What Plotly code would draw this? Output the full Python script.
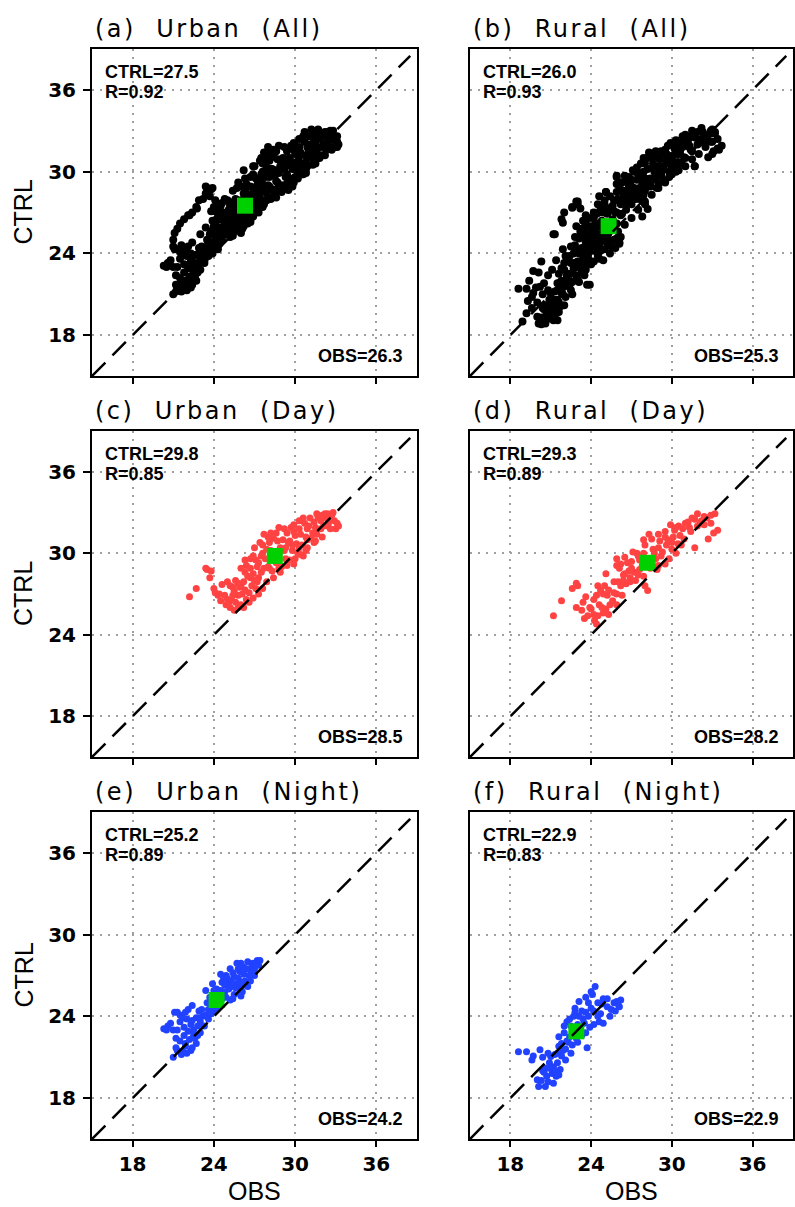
import plotly.graph_objects as go

W, H = 795, 1207

# ---------------- data ----------------
panel_titles = ["(a)  Urban  (All)", "(b)  Rural  (All)",
                "(c)  Urban  (Day)", "(d)  Rural  (Day)",
                "(e)  Urban  (Night)", "(f)  Rural  (Night)"]
obs_mean = [26.3, 25.3, 28.5, 28.2, 24.2, 22.9]
ctrl_mean = [27.5, 26.0, 29.8, 29.3, 25.2, 22.9]
corr_r = [0.92, 0.93, 0.85, 0.89, 0.89, 0.83]
tick_vals = [18, 24, 30, 36]
axis_range = [15, 39]

# (OBS, CTRL) pairs
urban_day = [
    (22.2, 26.8), (22.7, 27.4), (23.5, 28.8), (23.8, 28.7), (23.7, 28.2), (23.4, 28.9),
    (24.1, 27.1), (24.0, 27.4), (24.5, 26.5), (24.3, 26.9),
    (24.6, 27.7), (25.0, 27.9), (24.9, 26.2), (25.2, 26.0), (25.3, 26.6), (25.6, 26.4),
    (25.8, 26.9), (25.5, 27.2), (25.9, 27.5), (25.2, 27.6), (25.6, 28.0), (26.1, 27.0),
    (26.3, 27.3), (26.0, 26.2), (26.4, 26.6), (26.6, 27.1), (26.2, 27.9), (26.5, 28.3),
    (26.8, 27.6), (27.0, 28.0), (26.9, 28.5), (27.3, 28.2), (27.5, 28.6), (27.1, 27.4),
    (26.4, 29.1), (26.0, 28.9), (26.3, 29.5), (26.9, 29.8), (27.0, 30.4), (27.6, 30.6),
    (27.7, 31.4), (28.2, 31.5), (28.8, 31.9), (28.4, 31.1), (27.3, 29.3), (27.8, 29.6),
    (27.6, 30.0), (28.0, 29.0), (28.3, 28.7), (28.6, 29.3), (28.2, 30.2), (28.9, 30.4),
    (29.0, 29.0), (29.3, 29.6), (29.5, 30.8), (29.1, 31.0), (28.7, 30.9), (29.8, 30.2),
    (29.6, 29.5), (30.0, 31.3), (30.2, 30.0), (29.4, 31.5), (30.5, 30.6), (30.3, 31.8),
    (29.7, 31.9), (30.3, 32.4), (30.8, 31.2), (31.0, 32.0), (30.9, 30.4), (31.3, 31.5),
    (31.5, 30.9), (31.1, 32.6), (31.7, 32.65), (31.9, 31.8), (32.2, 32.9), (32.5, 32.3),
    (32.4, 32.0), (32.9, 32.4), (33.0, 31.8), (32.7, 32.8), (31.6, 31.4), (32.0, 31.2),
    (30.6, 29.8), (30.0, 29.6),
    (25.0, 26.6), (25.4, 26.9), (25.8, 27.8), (26.3, 28.6), (26.7, 28.9), (27.2, 29.0),
    (27.5, 29.8), (27.9, 30.3), (28.1, 30.8), (28.5, 30.1), (28.5, 29.7), (28.8, 28.9),
    (29.2, 30.2), (29.6, 30.9), (29.9, 31.6), (30.1, 30.7), (30.4, 31.4), (30.7, 32.2),
    (30.9, 31.8), (31.2, 31.1), (31.4, 32.3), (31.6, 32.9), (31.9, 32.4), (32.1, 32.0),
    (32.3, 32.6), (32.6, 31.8), (32.8, 33.0), (32.0, 32.8), (31.4, 30.8), (30.8, 30.2),
    (30.4, 29.9), (29.9, 29.2), (29.4, 29.1), (28.9, 28.6), (28.4, 28.2), (27.9, 27.9),
    (27.6, 27.4), (27.3, 27.0), (26.9, 26.7), (26.6, 26.4), (26.2, 26.0), (25.8, 26.0),
    (25.5, 25.8), (27.1, 29.5), (26.7, 29.6), (27.4, 30.8), (28.0, 31.2), (28.6, 31.5),
    (29.2, 31.8), (29.9, 32.1), (30.6, 32.6), (25.4, 27.5), (26.0, 27.6), (26.7, 28.2),
    (27.2, 27.9), (27.7, 28.9), (28.1, 28.9), (28.8, 29.9), (29.3, 30.4), (29.8, 30.6),
    (30.3, 30.4), (30.9, 31.0), (31.5, 31.9), (32.4, 32.9), (33.1, 32.2), (33.2, 32.0),
    (24.8, 26.9), (25.1, 26.4), (24.4, 27.0),
]
urban_night = [
    (21.0, 21.0), (21.3, 21.5), (21.7, 21.4), (22.3, 21.5), (22.4, 21.7), (21.9, 22.0),
    (21.5, 22.2), (22.2, 22.3), (21.8, 22.6), (22.5, 22.6), (20.3, 23.1), (20.6, 23.3),
    (21.0, 23.0), (21.1, 24.3), (21.5, 24.1), (21.9, 24.3), (22.4, 24.8), (22.0, 23.8),
    (21.5, 23.6), (21.3, 23.0), (21.8, 23.2), (22.5, 23.0), (22.3, 23.4), (22.8, 23.3),
    (23.0, 23.6), (22.7, 23.9), (23.2, 24.0), (23.4, 24.1), (23.6, 24.5), (23.1, 24.5),
    (24.0, 24.4), (23.8, 24.8), (23.5, 25.0), (23.4, 25.9), (23.9, 25.5), (23.9, 26.4),
    (24.2, 26.0), (24.5, 27.1), (24.6, 26.5), (24.8, 25.8), (25.0, 26.4), (25.2, 27.5),
    (25.5, 26.9), (25.7, 26.4), (25.7, 27.9), (25.2, 25.2), (25.5, 25.6), (26.0, 25.5),
    (26.0, 26.1), (26.2, 27.1), (26.3, 26.6), (26.5, 28.0), (26.5, 26.2), (26.7, 26.6),
    (26.7, 27.4), (26.9, 27.9), (27.2, 28.1), (27.3, 27.75), (27.0, 27.0), (24.9, 27.0),
    (25.3, 26.2), (25.9, 27.3), (26.4, 27.5), (24.4, 25.4), (24.7, 26.9), (25.8, 26.8),
    (26.9, 27.2), (24.3, 24.6), (22.9, 24.4),
    (21.2, 21.7), (21.6, 21.2), (22.0, 21.3), (22.7, 22.0), (22.1, 22.9), (22.6, 22.4),
    (23.0, 22.8), (22.4, 23.7), (22.9, 23.9), (23.3, 23.3), (23.6, 23.8), (23.8, 24.2),
    (24.1, 24.9), (24.3, 25.3), (24.6, 25.3), (24.9, 25.4), (24.5, 25.9), (24.8, 26.3),
    (25.1, 26.0), (25.3, 26.6), (25.6, 26.1), (25.0, 26.8), (25.4, 27.2), (25.8, 27.5),
    (26.1, 26.5), (26.2, 27.6), (26.6, 27.0), (26.8, 27.7), (26.1, 25.8), (25.9, 25.7),
    (25.4, 25.3), (26.4, 26.3), (27.0, 27.5), (27.1, 27.9), (27.4, 28.1), (26.0, 27.9),
    (24.0, 25.9), (23.7, 25.4), (24.2, 25.6), (21.2, 22.4), (20.8, 23.5), (21.7, 23.9),
    (21.3, 24.3), (22.1, 24.5), (20.5, 23.0), (21.9, 21.8), (22.8, 22.6),
]
urban_other = [
    (21.0, 25.0), (21.1, 25.5), (21.3, 25.8), (21.5, 26.2), (21.8, 26.5), (22.1, 26.8),
    (22.4, 27.0), (22.75, 27.3), (22.9, 27.9), (23.2, 28.0), (23.4, 28.4), (23.9, 28.8),
    (21.0, 24.5), (21.2, 21.2), (21.6, 21.8), (22.0, 21.6), (22.6, 22.2), (22.9, 22.8),
    (23.3, 23.5), (23.6, 24.9), (23.9, 24.0), (24.1, 25.3), (24.4, 24.7), (24.6, 25.9),
    (24.2, 26.5), (24.8, 26.7), (25.0, 25.4), (25.3, 26.0), (25.1, 27.2), (25.5, 27.8),
    (25.8, 25.9), (26.0, 27.0), (26.2, 28.4), (26.4, 29.0), (26.6, 27.6), (26.8, 26.9),
    (27.0, 27.5), (27.2, 28.7), (27.4, 29.5), (27.6, 27.8), (27.9, 28.4), (28.1, 29.6),
    (28.3, 30.2), (28.5, 28.5), (28.7, 29.2), (29.0, 30.5), (29.2, 28.9), (29.4, 29.8),
    (29.6, 31.0), (29.8, 28.9), (30.0, 30.2), (30.3, 31.1), (30.5, 29.8), (30.8, 30.7),
    (31.0, 31.6), (31.3, 30.5), (31.5, 32.2), (31.8, 31.0), (32.0, 32.6), (32.3, 31.6),
    (32.6, 33.0), (32.9, 32.3), (33.1, 32.6), (33.1, 31.8), (29.5, 28.65), (28.0, 31.8),
    (28.4, 31.6), (27.5, 31.0), (26.9, 30.4), (26.2, 30.1), (27.8, 30.9), (30.7, 32.9),
    (31.2, 33.1), (31.7, 33.1), (25.8, 29.2), (25.4, 28.6), (24.8, 28.0), (25.7, 28.8),
    (22.3, 22.0), (22.8, 23.0), (23.2, 24.2), (23.5, 24.5), (23.8, 25.6), (24.0, 26.0),
    (24.3, 24.3), (24.6, 25.0), (24.9, 25.9), (25.2, 25.6), (25.5, 26.3), (25.9, 26.7),
    (26.3, 26.2), (26.7, 26.3), (27.2, 27.2), (27.7, 27.6), (28.2, 28.0), (28.6, 28.1),
    (29.0, 28.5), (29.4, 29.0), (30.2, 29.5), (30.8, 29.9), (31.5, 30.6), (32.2, 31.2),
    (32.7, 31.6), (26.4, 27.7), (27.0, 28.6), (27.6, 29.1), (28.0, 30.0), (28.8, 30.0),
    (29.3, 30.9), (30.0, 31.9), (30.5, 32.4), (31.3, 32.8), (23.8, 27.1), (24.5, 27.5),
    (24.1, 27.9), (22.3, 24.0), (21.6, 24.6), (23.0, 25.4),
]

rural_day = [
    (21.2, 25.4), (21.8, 26.5), (22.6, 27.4), (23.0, 27.6), (22.9, 27.8),
    (23.3, 25.8), (23.75, 25.4), (24.25, 25.05), (24.4, 24.8), (24.0, 25.9),
    (24.7, 27.25), (25.1, 28.5), (25.9, 29.6), (25.9, 29.1), (26.7, 29.3),
    (25.0, 27.6), (25.7, 27.9), (26.2, 27.6), (26.6, 27.75), (25.2, 26.9),
    (25.6, 26.5), (24.6, 26.2), (24.2, 26.6), (23.6, 26.8), (24.9, 25.6),
    (25.3, 25.5), (25.9, 26.2), (26.5, 28.5), (27.2, 28.6), (27.5, 28.4),
    (28.2, 27.25), (28.0, 27.6), (26.9, 27.9), (26.1, 28.9), (27.0, 29.4),
    (27.4, 30.0), (27.8, 29.1), (28.5, 31.05), (29.0, 31.4), (29.5, 31.2),
    (30.2, 31.7), (30.5, 32.0), (31.2, 32.3), (31.7, 32.5), (32.2, 32.4),
    (32.9, 32.8), (32.7, 31.05), (33.4, 31.7), (33.1, 31.5), (31.7, 30.4),
    (29.8, 29.6), (29.2, 29.8), (29.0, 29.1), (28.4, 28.9), (28.6, 30.3),
    (28.0, 30.6), (30.45, 30.7), (30.9, 31.05), (31.4, 31.6), (30.0, 30.3),
    (29.6, 30.6), (28.8, 29.6), (27.9, 30.0), (31.9, 32.0), (32.4, 32.7),
    (26.4, 28.0), (27.6, 29.5), (23.4, 26.4), (22.9, 26.0), (24.5, 27.6),
    (23.5, 25.2), (23.9, 26.0), (24.2, 25.5), (24.5, 25.4), (24.8, 26.0),
    (25.1, 25.9), (25.4, 26.2), (25.7, 27.1), (25.3, 27.3), (24.9, 27.0),
    (24.4, 26.9), (25.9, 27.0), (26.3, 26.9), (26.0, 27.9), (26.4, 28.4),
    (26.8, 28.7), (26.9, 28.2), (27.3, 28.0), (27.6, 28.8), (27.9, 28.3),
    (28.2, 29.0), (28.4, 29.5), (28.7, 30.0), (29.0, 30.4), (29.3, 30.1),
    (29.1, 30.9), (29.5, 31.6), (29.7, 31.0), (30.1, 31.2), (30.3, 31.9),
    (30.6, 31.3), (30.8, 31.8), (31.0, 32.2), (31.3, 31.9), (31.5, 32.6),
    (31.9, 32.9), (32.1, 32.2), (32.6, 32.6), (32.4, 32.1), (32.9, 32.2),
    (33.2, 32.9), (30.3, 30.0), (30.7, 30.6), (29.5, 29.2), (28.9, 28.8),
    (27.5, 29.8), (27.1, 30.1), (26.5, 29.7), (26.2, 29.2), (27.9, 31.0),
    (28.3, 31.4), (29.9, 32.1), (28.0, 29.5), (27.0, 28.9), (30.0, 30.8),
]
rural_night = [
    (18.6, 21.4), (19.2, 21.4), (19.7, 21.1), (20.2, 21.55), (19.6, 20.8),
    (20.1, 18.85), (20.6, 18.85), (20.0, 19.35), (20.7, 19.6), (21.2, 19.1),
    (21.4, 19.6), (20.4, 20.0), (21.0, 21.05), (21.5, 21.3), (21.8, 22.0),
    (21.6, 22.5), (22.0, 22.8), (22.5, 23.3), (22.7, 24.0), (22.8, 24.6),
    (23.1, 25.1), (23.8, 25.0), (24.1, 25.6), (24.3, 26.2), (23.5, 23.5),
    (23.7, 21.7), (24.7, 24.2), (24.9, 23.5), (25.2, 24.7), (25.7, 25.0),
    (26.1, 24.7), (26.2, 25.2), (25.4, 24.0), (24.5, 24.0), (24.8, 24.9),
    (22.5, 21.3), (22.1, 20.8), (21.7, 20.1), (21.2, 20.3), (20.9, 20.6),
    (22.3, 22.1), (22.9, 22.4), (23.2, 23.0), (23.6, 24.3), (24.0, 24.6),
    (23.3, 24.4), (22.2, 23.6), (21.9, 21.5), (20.6, 20.2), (21.1, 19.8),
    (20.3, 19.3), (20.8, 19.2), (21.3, 20.0), (20.5, 19.9), (20.9, 20.2),
    (21.5, 20.6), (21.8, 21.1), (22.1, 21.6), (22.4, 22.5), (22.7, 22.9),
    (23.0, 23.4), (23.4, 23.8), (23.1, 24.0), (23.8, 24.0), (24.2, 24.4),
    (24.5, 25.0), (24.9, 25.3), (25.2, 25.3), (25.5, 24.5), (25.9, 25.1),
    (24.6, 23.6), (24.2, 23.4), (23.9, 23.2), (23.6, 22.8), (23.0, 22.1),
    (22.6, 21.9), (22.2, 22.2), (21.6, 21.8), (21.3, 21.2), (20.8, 21.3),
    (20.4, 21.0), (22.0, 23.3), (22.4, 23.8), (22.8, 24.3), (23.6, 25.4),
    (24.0, 25.8), (23.3, 22.6), (25.8, 24.4), (26.0, 24.9), (21.6, 19.7),
]
rural_other = [
    (18.9, 19.0), (20.3, 18.8), (21.5, 19.1), (21.0, 19.3), (19.4, 22.0), (19.7, 22.7),
    (20.3, 23.4), (20.1, 22.6), (20.8, 22.4), (21.3, 25.4), (21.9, 24.3), (21.9, 26.25),
    (22.0, 27.0), (22.6, 27.35), (23.0, 27.8), (23.2, 27.3), (23.9, 21.7),
    (21.2, 20.6), (21.5, 21.8), (21.9, 21.0), (22.2, 22.4), (22.4, 21.7), (22.7, 23.3),
    (22.9, 22.3), (23.1, 24.2), (23.4, 23.0), (23.6, 24.8), (23.8, 23.6), (24.0, 25.3),
    (24.2, 24.2), (24.4, 25.9), (24.6, 24.7), (24.8, 26.4), (25.0, 25.2), (25.2, 27.0),
    (25.4, 25.7), (25.6, 27.5), (25.8, 26.2), (26.0, 28.0), (26.2, 26.8), (26.4, 28.6),
    (26.6, 27.2), (26.8, 29.0), (27.0, 27.6), (27.2, 28.3), (27.4, 29.4), (27.6, 28.0),
    (27.8, 29.8), (28.0, 28.6), (28.2, 30.2), (28.4, 29.0), (28.6, 30.6), (28.8, 29.4),
    (29.0, 31.0), (29.2, 29.6), (29.4, 30.4), (29.6, 31.3), (29.8, 30.0), (30.0, 31.0),
    (30.2, 31.8), (30.4, 30.5), (30.6, 31.5), (30.8, 32.2), (31.0, 31.0), (31.2, 32.0),
    (31.5, 31.5), (31.7, 32.6), (32.0, 32.1), (32.3, 32.9), (32.6, 32.5), (32.9, 33.0),
    (33.2, 32.8), (33.5, 31.6), (33.0, 31.3), (31.7, 30.4), (27.8, 26.7), (26.1, 24.8),
    (25.1, 28.5), (25.9, 29.7), (24.6, 28.2), (23.6, 26.4), (24.9, 27.2), (28.8, 31.5),
    (30.8, 32.6), (33.0, 33.1), (27.4, 30.3),
    (19.2, 19.6), (19.6, 20.0), (20.0, 20.4), (19.3, 20.5), (19.9, 21.5), (20.5, 21.8),
    (21.1, 22.8), (21.4, 23.5), (21.8, 22.9), (22.1, 23.8), (22.5, 24.5), (22.8, 25.2),
    (23.2, 25.6), (23.5, 25.9), (23.9, 26.6), (24.2, 27.0), (24.6, 27.0), (25.0, 27.9),
    (25.4, 28.2), (25.9, 28.5), (26.3, 29.2), (26.8, 29.6), (27.2, 30.0), (27.7, 30.6),
    (28.2, 31.0), (28.6, 31.3), (29.2, 31.5), (29.7, 31.9), (30.3, 32.3), (31.0, 32.7),
    (31.5, 33.0), (32.2, 33.2), (20.8, 20.0), (21.6, 20.4), (22.0, 20.2), (22.6, 21.0),
    (23.1, 21.9), (23.5, 22.4), (24.0, 23.2), (24.5, 23.8), (25.0, 24.3), (25.5, 24.9),
    (26.0, 25.6), (26.5, 26.1), (27.0, 26.6), (27.5, 27.2), (28.0, 27.8), (28.5, 28.3),
    (29.0, 28.8), (29.5, 29.3), (30.0, 29.8), (30.5, 30.1), (31.0, 30.4), (31.5, 30.9),
    (32.0, 31.3), (32.5, 31.8), (33.0, 32.2), (33.4, 32.4), (33.7, 31.9), (23.0, 23.0),
    (23.8, 24.5), (24.4, 25.2), (25.2, 26.1), (25.8, 27.0), (26.6, 27.8), (27.2, 28.8),
    (28.0, 29.5), (28.8, 30.2), (29.6, 30.7), (30.4, 31.3), (31.3, 31.8),
]

panel_points = [
    urban_day + urban_night + urban_other,
    rural_day + rural_night + rural_other,
    urban_day, rural_day, urban_night, rural_night,
]
panel_colors = ["#000000", "#000000", "#ff4343", "#ff4343", "#2142ff", "#2142ff"]
panel_msize = [8, 8, 7, 7, 7, 7]

# ---------------- layout geometry (pixels) ----------------
cols_px = [(92, 417), (470, 793)]
rows_px = [(49, 376), (431, 757), (812, 1139)]


def px_x(p):
    return p / W


def px_y(p):
    return 1 - p / H


fig = go.Figure()
annotations = []
layout_axes = {}

for i in range(6):
    r, c = divmod(i, 2)
    n = i + 1
    xa = "x" if n == 1 else f"x{n}"
    ya = "y" if n == 1 else f"y{n}"
    x0, x1 = px_x(cols_px[c][0]), px_x(cols_px[c][1])
    y0, y1 = px_y(rows_px[r][1]), px_y(rows_px[r][0])

    pts = panel_points[i]
    fig.add_trace(go.Scatter(
        x=[p[0] for p in pts], y=[p[1] for p in pts], mode="markers",
        marker=dict(size=panel_msize[i], color=panel_colors[i], line=dict(width=0)),
        xaxis=xa, yaxis=ya, showlegend=False, hoverinfo="skip"))
    fig.add_trace(go.Scatter(
        x=[obs_mean[i]], y=[ctrl_mean[i]], mode="markers",
        marker=dict(size=16, symbol="square", color="#00d000", line=dict(width=0)),
        xaxis=xa, yaxis=ya, showlegend=False, hoverinfo="skip"))
    fig.add_trace(go.Scatter(
        x=[15, 38.5], y=[15, 38.5], mode="lines",
        line=dict(color="black", width=2.5, dash="19px,10px"),
        xaxis=xa, yaxis=ya, showlegend=False, hoverinfo="skip"))

    common = dict(range=axis_range, tickvals=tick_vals, showgrid=True,
                  gridcolor="#a0a0a0", gridwidth=1.5, griddash="2px,6px",
                  zeroline=False, showline=True, mirror=True,
                  linecolor="black", linewidth=2,
                  tickfont=dict(family="DejaVu Sans", size=20, color="black", weight="bold"))
    xname = "xaxis" if n == 1 else f"xaxis{n}"
    yname = "yaxis" if n == 1 else f"yaxis{n}"
    layout_axes[xname] = dict(common, domain=[x0, x1], anchor=ya,
                              ticks="outside", ticklen=6, tickwidth=1.5, tickcolor="black",
                              showticklabels=(r == 2))
    layout_axes[yname] = dict(common, domain=[y0, y1], anchor=xa,
                              ticks="outside" if c == 0 else "", ticklen=7, tickwidth=1.5,
                              tickcolor="black", showticklabels=(c == 0), ticklabelstandoff=3)

    # panel title (wide letter spacing as in the original)
    annotations.append(dict(text=f'<span style="letter-spacing:2.5px">{panel_titles[i]}</span>',
                            xref="paper", yref="paper",
                            x=x0 + 1 / W, y=y1 + 4 / H, xanchor="left", yanchor="bottom",
                            showarrow=False,
                            font=dict(family="DejaVu Sans", size=24, color="black")))
    stat_font = dict(family="Liberation Sans", size=18, color="black", weight="bold")
    annotations.append(dict(text=f"CTRL={ctrl_mean[i]:.1f}", xref="paper", yref="paper",
                            x=x0 + 11 / W, y=y1 - 23 / H, xanchor="left", yanchor="middle",
                            showarrow=False, font=stat_font))
    annotations.append(dict(text=f"R={corr_r[i]:.2f}", xref="paper", yref="paper",
                            x=x0 + 11 / W, y=y1 - 43 / H, xanchor="left", yanchor="middle",
                            showarrow=False, font=stat_font))
    annotations.append(dict(text=f"OBS={obs_mean[i]:.1f}", xref="paper", yref="paper",
                            x=x1 - 12 / W, y=y0 + 20 / H, xanchor="right", yanchor="middle",
                            showarrow=False, font=stat_font))

    if c == 0:
        annotations.append(dict(text="CTRL", xref="paper", yref="paper",
                                x=px_x(23), y=(y0 + y1) / 2, xanchor="center", yanchor="middle",
                                textangle=-90, showarrow=False,
                                font=dict(family="Liberation Sans", size=25, color="black")))
    if r == 2:
        annotations.append(dict(text="OBS", xref="paper", yref="paper",
                                x=(x0 + x1) / 2, y=px_y(1191), xanchor="center", yanchor="middle",
                                showarrow=False,
                                font=dict(family="Liberation Sans", size=25, color="black")))

fig.update_layout(width=W, height=H, margin=dict(l=0, r=0, t=0, b=0),
                  paper_bgcolor="white", plot_bgcolor="white",
                  annotations=annotations, **layout_axes)

fig.write_html("out.html")
